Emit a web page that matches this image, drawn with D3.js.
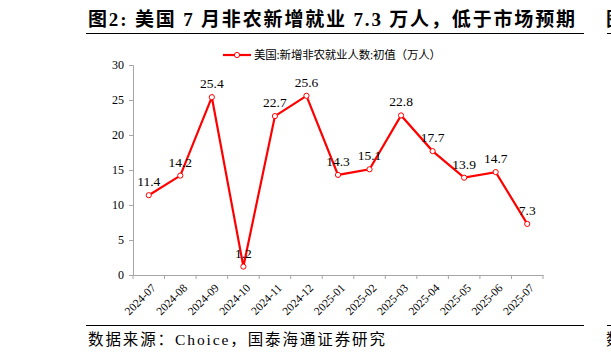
<!DOCTYPE html>
<html>
<head>
<meta charset="utf-8">
<script src="https://cdn.jsdelivr.net/npm/d3@7"></script>
<style>
  body { margin: 0; background: #fff; }
  svg { display: block; }
</style>
</head>
<body>
<svg id="chart" width="611" height="358"></svg>
<script>
const months = ["2024-07", "2024-08", "2024-09", "2024-10", "2024-11", "2024-12",
  "2025-01", "2025-02", "2025-03", "2025-04", "2025-05", "2025-06", "2025-07"];
const payrolls = [11.4, 14.2, 25.4, 1.2, 22.7, 25.6, 14.3, 15.1, 22.8, 17.7, 13.9, 14.7, 7.3];
const yTicks = [0, 5, 10, 15, 20, 25, 30];

const titleText = "图2:  美国 7 月非农新增就业 7.3 万人，低于市场预期";
const sourceText = "数据来源：Choice，国泰海通证券研究";
const legendText = "美国:新增非农就业人数:初值（万人）";

const serif = "'Liberation Serif', 'Noto Sans CJK SC', serif";
const svg = d3.select("#chart");

let x = d3.scaleBand().domain(months).range([133, 543]);
let y = d3.scaleLinear().domain([0, 30]).range([275, 65]);

// title + rules
svg.append("text")
  .attr("x", 88).attr("y", 26)
  .attr("textLength", 487).attr("lengthAdjust", "spacing")
  .style("font-family", serif).style("font-size", "19px").style("font-weight", "bold")
  .text(titleText);
svg.append("line").attr("x1", 86).attr("x2", 584).attr("y1", 33.5).attr("y2", 33.5)
  .attr("stroke", "#000").attr("stroke-width", 1);
svg.append("line").attr("x1", 607).attr("x2", 611).attr("y1", 33.5).attr("y2", 33.5)
  .attr("stroke", "#000").attr("stroke-width", 1);
svg.append("line").attr("x1", 86).attr("x2", 584).attr("y1", 325.5).attr("y2", 325.5)
  .attr("stroke", "#000").attr("stroke-width", 1);
svg.append("line").attr("x1", 607).attr("x2", 611).attr("y1", 325.5).attr("y2", 325.5)
  .attr("stroke", "#000").attr("stroke-width", 1);

svg.append("text")
  .attr("x", 88).attr("y", 345)
  .attr("textLength", 297).attr("lengthAdjust", "spacing")
  .style("font-family", serif).style("font-size", "15.5px")
  .text(sourceText);

// axes
const yAxis = svg.append("g")
  .attr("transform", "translate(133,0)")
  .call(d3.axisLeft(y).tickValues(yTicks).tickSize(4).tickPadding(5));
const xAxis = svg.append("g")
  .attr("transform", "translate(0,275)")
  .call(d3.axisBottom(x).tickSize(0).tickFormat(""));

[yAxis, xAxis].forEach(g => {
  g.select(".domain").attr("stroke", "#a6a6a6");
  g.selectAll(".tick line").attr("stroke", "#a6a6a6");
});
yAxis.selectAll("text")
  .style("font-family", serif).style("font-size", "12px").attr("fill", "#000");

// x ticks between categories
xAxis.selectAll(".boundary")
  .data(months.concat(["end"]))
  .enter().append("line")
  .attr("x1", (d, i) => 133 + i * x.step())
  .attr("x2", (d, i) => 133 + i * x.step())
  .attr("y1", 0).attr("y2", 4)
  .attr("stroke", "#a6a6a6");

svg.append("g").selectAll("text")
  .data(months)
  .enter().append("text")
  .attr("transform", d => "translate(" + (x(d) + x.bandwidth() / 2 + 2) + ",283) rotate(-45)")
  .attr("text-anchor", "end")
  .attr("dy", "0.7em")
  .style("font-family", serif).style("font-size", "11.5px")
  .text(d => d);

// line + markers
const cx = d => x(d) + x.bandwidth() / 2;
const line = d3.line()
  .x((d, i) => cx(months[i]))
  .y(d => y(d));

svg.append("path")
  .datum(payrolls)
  .attr("d", line)
  .attr("fill", "none")
  .attr("stroke", "#ff0000")
  .attr("stroke-width", 2.2);

svg.append("g").selectAll("circle")
  .data(payrolls)
  .enter().append("circle")
  .attr("cx", (d, i) => cx(months[i]))
  .attr("cy", d => y(d))
  .attr("r", 2.6)
  .attr("fill", "#fff")
  .attr("stroke", "#ff0000")
  .attr("stroke-width", 1);

svg.append("g").selectAll("text")
  .data(payrolls)
  .enter().append("text")
  .attr("x", (d, i) => cx(months[i]))
  .attr("y", d => y(d) - 9)
  .attr("text-anchor", "middle")
  .style("font-family", serif).style("font-size", "13.5px")
  .text(d => d.toFixed(1));

// legend
const legend = svg.append("g").attr("transform", "translate(223,55)");
legend.append("line").attr("x1", 0).attr("x2", 28).attr("stroke", "#ff0000").attr("stroke-width", 2.2);
legend.append("circle").attr("cx", 14).attr("r", 2.6).attr("fill", "#fff").attr("stroke", "#ff0000");
legend.append("text")
  .attr("x", 31).attr("y", 4)
  .attr("textLength", 187).attr("lengthAdjust", "spacing")
  .style("font-family", serif).style("font-size", "11.5px")
  .text(legendText);

// cut-off fragments at right edge (partially visible in the reference too)
svg.append("text").attr("x", 606).attr("y", 26)
  .style("font-family", serif).style("font-size", "19px").style("font-weight", "bold").text("图");
svg.append("text").attr("x", 606).attr("y", 345)
  .style("font-family", serif).style("font-size", "15.5px").text("数");
</script>
</body>
</html>
